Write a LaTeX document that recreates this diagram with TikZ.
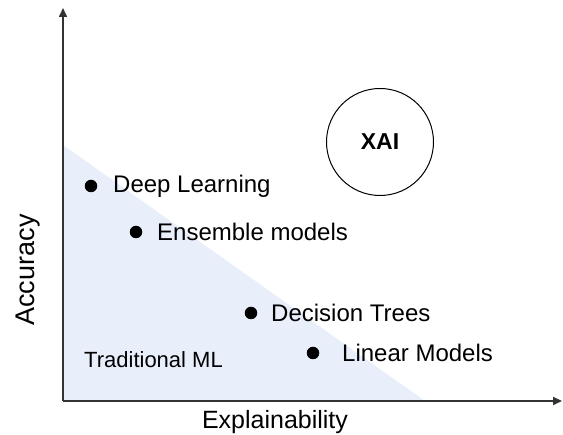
\documentclass[tikz,border=0pt]{standalone}
\usepackage{fontspec}
\setmainfont{Liberation Sans}
\usetikzlibrary{arrows.meta}
\definecolor{mlfill}{HTML}{E8EEFA}
\definecolor{axisgray}{HTML}{333333}
\tikzset{
  axis/.style={draw=axisgray, line width=1.6pt, -{Triangle[length=9pt,width=8pt]}},
  dot/.style={circle, fill=black, inner sep=0pt, minimum size=12.5pt},
  lbl/.style={anchor=west, inner sep=0pt, font=\fontsize{24}{28}\selectfont},
}
\begin{document}
\begin{tikzpicture}[x=1pt, y=-1pt]
\useasboundingbox (0,0) rectangle (563,435);
% traditional ML region
\fill[mlfill] (63,145) -- (425,401) -- (63,401) -- cycle;
% axes
\coordinate (origin) at (63,401);
\coordinate (ytip) at (63,8);
\coordinate (xtip) at (562,401);
\draw[axis] (origin) -- (ytip);
\draw[axis] (origin) -- (xtip);
% XAI circle
\node[draw, circle, line width=1pt, minimum size=107pt, font=\fontsize{23}{27}\selectfont\bfseries] (xai) at (380,142) {XAI};
% models
\node[dot] (dl) at (91,186) {};
\node[lbl] (dlt) at (113,186) {Deep Learning};
\node[dot] (em) at (136,232) {};
\node[lbl] (emt) at (157,232) {Ensemble models};
\node[dot] (dt) at (251,313) {};
\node[lbl] (dtt) at (271,313) {Decision Trees};
\node[dot] (lm) at (313,353) {};
\node[lbl] (lmt) at (342,353) {Linear Models};
\node[lbl, font=\fontsize{22}{26}\selectfont] (tml) at (84,360) {Traditional ML};
% axis titles
\node[font=\fontsize{25}{29}\selectfont] (xl) at (275,422) {Explainability};
\node[font=\fontsize{27}{31}\selectfont, rotate=90] (yl) at (28,270) {Accuracy};
\end{tikzpicture}
\end{document}
